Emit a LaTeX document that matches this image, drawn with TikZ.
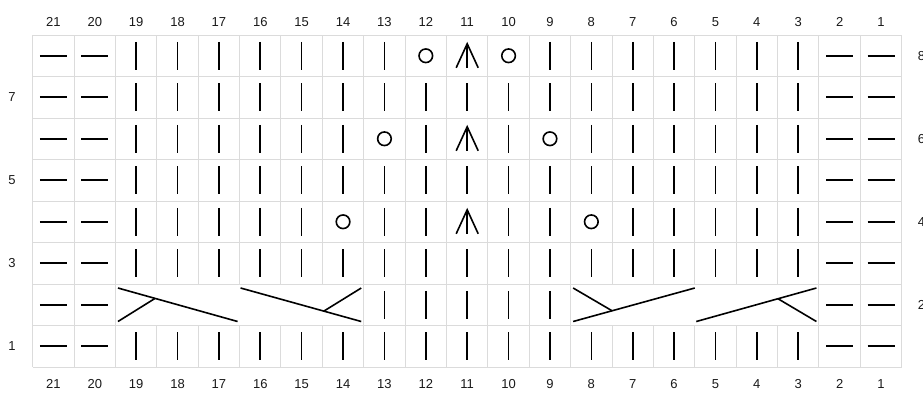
\documentclass[tikz,border=0pt]{standalone}
\usepackage{fontspec}
\setmainfont{Liberation Sans}
\usetikzlibrary{calc}
\begin{document}
\begin{tikzpicture}[x=1pt,y=-1pt,
  gridline/.style={draw=black!14,line width=1pt},
  sym/.style={line width=1.6pt,black},
  lbl/.style={font=\fontsize{13}{15}\selectfont,inner sep=0pt,text=black!90}]
\useasboundingbox (0,0) rectangle (923,392);
\def\L{32.7}\def\T{35}\def\W{41.38}\def\H{41.5}
% cell centres
\foreach \c in {1,...,21}{
  \foreach \r in {1,...,8}{
    \coordinate (c\c-\r) at ({\L+(21.5-\c)*\W},{\T+(8.5-\r)*\H});
  }
}
% grid
\foreach \i in {0,...,21}{
  \draw[gridline] ({\L+\i*\W},\T) -- ({\L+\i*\W},{\T+8*\H});
}
\foreach \j in {0,...,8}{
  \draw[gridline] (\L,{\T+\j*\H}) -- ({\L+21*\W},{\T+\j*\H});
}
% merged cable cells
\fill[white] ({\L+2*\W+0.7},{\T+6*\H+0.7}) rectangle ({\L+8*\W-0.7},{\T+7*\H-0.7});
\fill[white] ({\L+13*\W+0.7},{\T+6*\H+0.7}) rectangle ({\L+19*\W-0.7},{\T+7*\H-0.7});
% column labels
\foreach \c in {1,...,21}{
  \node[lbl] (top\c) at ({\L+(21.5-\c)*\W},22) {\c};
  \node[lbl] (bot\c) at ({\L+(21.5-\c)*\W},384) {\c};
}
% row labels
\foreach \r in {1,3,5,7}{
  \node[lbl] (row\r) at (12,{\T+(8.5-\r)*\H}) {\r};
}
\foreach \r in {2,4,6,8}{
  \node[lbl] (row\r) at (921.5,{\T+(8.5-\r)*\H}) {\r};
}
% purl dashes
\foreach \c in {1,2,20,21}{
  \foreach \r in {1,...,8}{
    \draw[sym] ($(c\c-\r)+(-13.5,0)$) -- ($(c\c-\r)+(13.5,0)$);
  }
}
% knit bars in odd rows
\foreach \r in {1,3,5,7}{
  \foreach \c in {3,...,19}{
    \draw[sym] ($(c\c-\r)+(0,-14)$) -- ($(c\c-\r)+(0,14)$);
  }
}
% row 2 knit bars
\foreach \c in {9,...,13}{
  \draw[sym] ($(c\c-2)+(0,-14)$) -- ($(c\c-2)+(0,14)$);
}
% rows 4, 6, 8
\foreach \r/\yl/\yr in {4/14/8,6/13/9,8/12/10}{
  \foreach \c in {3,...,19}{
    \ifnum\c=\yl\relax
      \draw[sym] (c\c-\r) circle (6.8);
    \else\ifnum\c=\yr\relax
      \draw[sym] (c\c-\r) circle (6.8);
    \else\ifnum\c=11\relax
      \draw[sym] ($(c\c-\r)+(-11,12)$) -- ($(c\c-\r)+(0,-12)$) -- ($(c\c-\r)+(11,12)$);
      \draw[sym] ($(c\c-\r)+(0,-12)$) -- ($(c\c-\r)+(0,12)$);
    \else
      \draw[sym] ($(c\c-\r)+(0,-14)$) -- ($(c\c-\r)+(0,14)$);
    \fi\fi\fi
  }
}
% cable end points
\def\yt{288}\def\yb{321.5}
\coordinate (a1tl) at ({\L+2*\W+2.5},\yt);  \coordinate (a1bl) at ({\L+2*\W+2.5},\yb);
\coordinate (a1br) at ({\L+5*\W-2},\yb);
\coordinate (a2tl) at ({\L+5*\W+1},\yt);
\coordinate (a2tr) at ({\L+8*\W-2.5},\yt);  \coordinate (a2br) at ({\L+8*\W-2.5},\yb);
\coordinate (a3bl) at ({\L+13*\W+2.5},\yb); \coordinate (a3tl) at ({\L+13*\W+2.5},\yt);
\coordinate (a3tr) at ({\L+16*\W},\yt);
\coordinate (a4bl) at ({\L+16*\W+1.5},\yb);
\coordinate (a4tr) at ({\L+19*\W-2.5},\yt); \coordinate (a4br) at ({\L+19*\W-2.5},\yb);
% cables
\draw[sym] (a1tl) -- (a1br);
\draw[sym] (a1bl) -- ($(a1tl)!0.31!(a1br)$);
\draw[sym] (a2tl) -- (a2br);
\draw[sym] (a2tr) -- ($(a2tl)!0.69!(a2br)$);
\draw[sym] (a3bl) -- (a3tr);
\draw[sym] (a3tl) -- ($(a3bl)!0.32!(a3tr)$);
\draw[sym] (a4bl) -- (a4tr);
\draw[sym] (a4br) -- ($(a4bl)!0.68!(a4tr)$);
\end{tikzpicture}
\end{document}
